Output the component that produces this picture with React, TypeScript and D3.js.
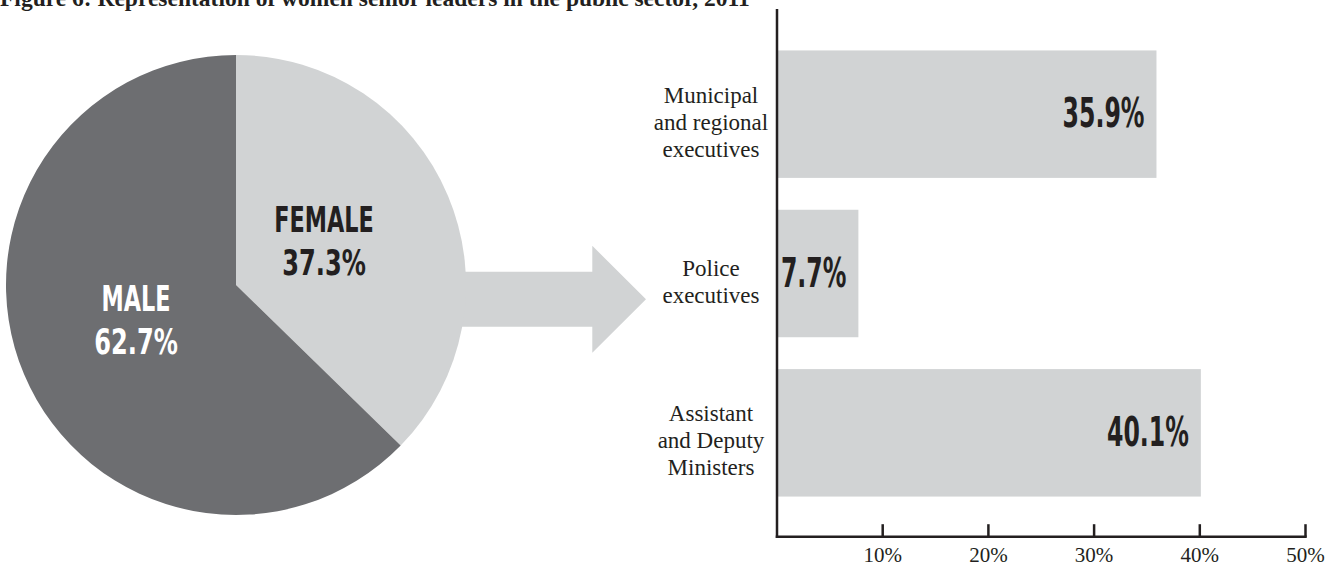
import React from 'react';
import * as d3 from 'd3';

const title = "Figure 6: Representation of women senior leaders in the public sector, 2011";
const pieLabels = ["FEMALE", "MALE"];
const pieValues = [37.3, 62.7];
const pieColors = ["#d1d3d4", "#6d6e71"];
const pieTextColors = ["#231f20", "#ffffff"];
const barCategories = ["Municipal\nand regional\nexecutives", "Police\nexecutives", "Assistant\nand Deputy\nMinisters"];
const barValues = [35.9, 7.7, 40.1];
const xTicks = [10, 20, 30, 40, 50];

const condensed = "'Liberation Sans Narrow', 'Arial Narrow', 'DejaVu Sans Condensed', 'DejaVu Sans', sans-serif";
const serif = "'Liberation Serif', 'Times New Roman', serif";
const ink = "#231f20";

export default function App() {
  const W = 1336, H = 566;
  const cx = 236, cy = 285, r = 230;

  const pie = d3.pie<number>().sort(null).value((d) => d);
  const arcs = pie(pieValues);
  const arc = d3.arc<d3.PieArcDatum<number>>().innerRadius(0).outerRadius(r);
  const labelArc = d3.arc<d3.PieArcDatum<number>>().innerRadius(102).outerRadius(102);

  const x = d3.scaleLinear().domain([0, 50]).range([777, 1305.5]);
  const y = d3.scaleBand<string>().domain(barCategories).range([34.5, 512.5]).paddingInner(0.2).paddingOuter(0.1);
  const axisY = 536.7;

  // arrow geometry
  const aY = 299.3;
  const shaftHalf = 27.5, headHalf = 53.5;
  const aStart = cx + r * 0.7, headBase = 592.3, tip = 646;
  const arrowPath = `M${aStart},${aY - shaftHalf} L${headBase},${aY - shaftHalf} L${headBase},${aY - headHalf} L${tip},${aY} L${headBase},${aY + headHalf} L${headBase},${aY + shaftHalf} L${aStart},${aY + shaftHalf} Z`;

  const letterScale = (s: string) => (/^[0-9.%]+$/.test(s) ? 0.745 : 0.69);

  return (
    <svg width={W} height={H} style={{ position: 'absolute', left: 0, top: 0, background: '#fff' }}>
      <text x={0} y={6} fontFamily={serif} fontWeight="bold" fontSize={23.5} fill={ink}>{title}</text>

      <path d={arrowPath} fill={pieColors[0]} />

      <g transform={`translate(${cx},${cy})`}>
        {arcs.map((a, i) => (
          <path key={i} d={arc(a) || ''} fill={pieColors[i]} />
        ))}
        {arcs.map((a, i) => {
          const [lx0, ly0] = labelArc.centroid(a);
          const lx = lx0 - 6, ly = ly0 - 5;
          const lines = [pieLabels[i], `${pieValues[i]}%`];
          return (
            <g key={'l' + i}>
              {lines.map((t, j) => (
                <g key={j} transform={`translate(${lx},${ly - 8.7 + j * 43.5}) scale(${letterScale(t)},1)`}>
                  <text x={0} y={0} textAnchor="middle" fontFamily={condensed} fontWeight="bold" fontSize={36} fill={pieTextColors[i]}>{t}</text>
                </g>
              ))}
            </g>
          );
        })}
      </g>

      {barCategories.map((c, i) => (
        <rect key={c} x={x(0)} y={y(c)!} width={x(barValues[i]) - x(0)} height={y.bandwidth()} fill={pieColors[0]} />
      ))}

      {barCategories.map((c, i) => {
        const lines = c.split('\n');
        const mid = y(c)! + y.bandwidth() / 2;
        return (
          <text key={'c' + i} textAnchor="middle" fontFamily={serif} fontSize={23} fill={ink}>
            {lines.map((t, j) => (
              <tspan key={j} x={711} y={mid + 8 + (j - (lines.length - 1) / 2) * 27 + 7.5}>{t}</tspan>
            ))}
          </text>
        );
      })}

      {barCategories.map((c, i) => {
        const mid = y(c)! + y.bandwidth() / 2;
        return (
          <g key={'v' + i} transform={`translate(${x(barValues[i]) - 12},${mid + 13}) scale(0.64,1)`}>
            <text x={0} y={0} textAnchor="end" fontFamily={condensed} fontWeight="bold" fontSize={41} fill={ink}>{`${barValues[i]}%`}</text>
          </g>
        );
      })}

      <line x1={x(0)} x2={x(0)} y1={9} y2={axisY + 1.25} stroke={ink} strokeWidth={2.5} />
      <line x1={x(0) - 1.25} x2={x(50) + 1.25} y1={axisY} y2={axisY} stroke={ink} strokeWidth={2.5} />
      {xTicks.map((t) => (
        <g key={t}>
          <line x1={x(t)} x2={x(t)} y1={axisY - 12.5} y2={axisY} stroke={ink} strokeWidth={2.5} />
          <text x={x(t)} y={562} textAnchor="middle" fontFamily={serif} fontSize={21} fill={ink}>{`${t}%`}</text>
        </g>
      ))}
    </svg>
  );
}
